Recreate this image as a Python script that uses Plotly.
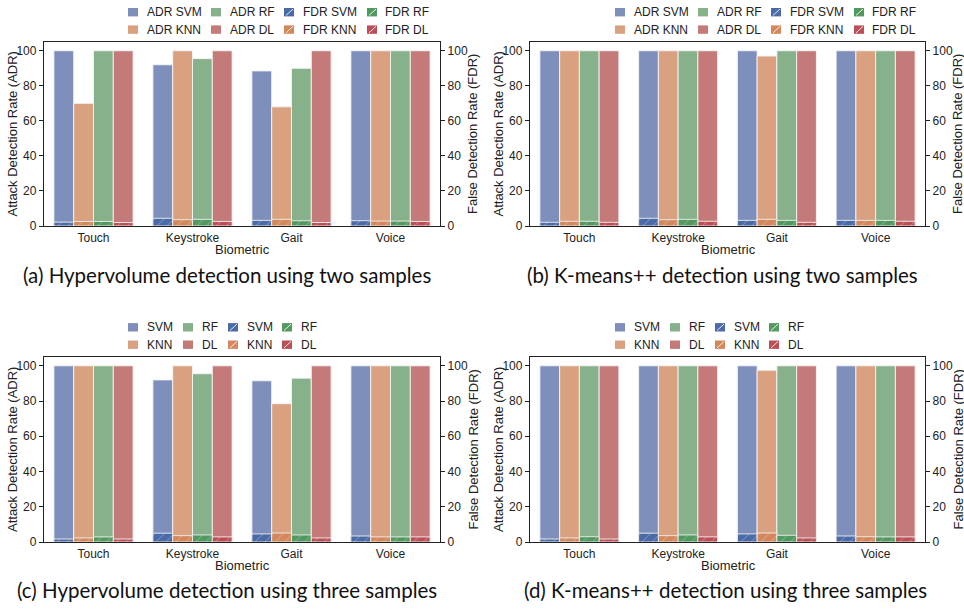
import plotly.graph_objects as go

W, H = 964, 610
categories = ["Touch", "Keystroke", "Gait", "Voice"]
models = ["SVM", "KNN", "RF", "DL"]

# ADR / FDR values per panel, per model (Touch, Keystroke, Gait, Voice)
adr_a = {"SVM": [100, 92, 88.5, 100], "KNN": [70, 100, 68, 100],
         "RF": [100, 95.5, 90, 100], "DL": [100, 100, 100, 100]}
fdr_a = {"SVM": [2.2, 4.4, 3.2, 3.0], "KNN": [2.6, 3.6, 3.8, 2.8],
         "RF": [2.6, 3.8, 3.0, 2.8], "DL": [2.0, 2.6, 2.0, 2.6]}

adr_b = {"SVM": [100, 100, 100, 100], "KNN": [100, 100, 97, 100],
         "RF": [100, 100, 100, 100], "DL": [100, 100, 100, 100]}
fdr_b = {"SVM": [2.1, 4.4, 3.2, 3.2], "KNN": [2.7, 3.6, 3.8, 3.2],
         "RF": [2.7, 3.8, 3.2, 3.2], "DL": [2.1, 2.7, 2.1, 2.7]}

adr_c = {"SVM": [100, 92, 91.5, 100], "KNN": [100, 100, 78.5, 100],
         "RF": [100, 95.5, 93, 100], "DL": [100, 100, 100, 100]}
fdr_c = {"SVM": [1.7, 5.0, 4.6, 3.4], "KNN": [2.3, 3.6, 5.1, 2.9],
         "RF": [2.9, 4.0, 4.0, 2.9], "DL": [1.7, 2.9, 2.3, 2.9]}

adr_d = {"SVM": [100, 100, 100, 100], "KNN": [100, 100, 97.5, 100],
         "RF": [100, 100, 100, 100], "DL": [100, 100, 100, 100]}
fdr_d = {"SVM": [1.7, 5.0, 4.6, 3.4], "KNN": [2.3, 3.6, 5.1, 3.0],
         "RF": [3.0, 4.0, 3.8, 2.9], "DL": [1.7, 2.9, 2.3, 2.9]}

captions = ["(a) Hypervolume detection using two samples",
            "(b) K-means++ detection using two samples",
            "(c) Hypervolume detection using three samples",
            "(d) K-means++ detection using three samples"]
x_title = "Biometric"
y_title_left = "Attack Detection Rate (ADR)"
y_title_right = "False Detection Rate (FDR)"
y_ticks = [0, 20, 40, 60, 80, 100]

adr_colors = {"SVM": "#7d8fba", "KNN": "#d9a17f", "RF": "#87b18b", "DL": "#c57a7a"}
fdr_colors = {"SVM": "#4a6ba8", "KNN": "#d3875a", "RF": "#52995f", "DL": "#be4e55"}

FONT = "Liberation Sans"
TXT = "#222222"

# panel geometry in pixels (left, right, top, bottom)
panels = [(44, 440, 42, 226), (530, 925, 42, 226),
          (44, 440, 357, 542), (530, 925, 357, 542)]
data = [(adr_a, fdr_a, True), (adr_b, fdr_b, True),
        (adr_c, fdr_c, False), (adr_d, fdr_d, False)]

fig = go.Figure()
layout = {}
annotations = []
shapes = []


def px(x):
    return x / W


def py(y):
    return 1 - y / H


# legend layout: (swatch left, text left) per column, rows centre y
leg_top = dict(cols=[(128, 145), (211, 228), (284, 301), (367, 383)], rows=[12.2, 29.6])
leg_bot = dict(cols=[(128, 145), (183, 200), (228, 245), (282, 299)], rows=[327.3, 344.7])
leg_entries = [[("ADR", "SVM"), ("ADR", "KNN")], [("ADR", "RF"), ("ADR", "DL")],
               [("FDR", "SVM"), ("FDR", "KNN")], [("FDR", "RF"), ("FDR", "DL")]]

for p, ((l, r, t, b), (adr, fdr, prefixed)) in enumerate(zip(panels, data)):
    k = p + 1
    xa = "x" if k == 1 else f"x{k}"
    ya = "y" if k == 1 else f"y{k}"
    y2n = k + 4
    ya2 = f"y{y2n}"
    dx = 0 if p % 2 == 0 else 487
    leg = leg_top if p < 2 else leg_bot

    for i, m in enumerate(models):
        fig.add_trace(go.Bar(
            x=categories, y=adr[m], xaxis=xa, yaxis=ya,
            name=(f"ADR {m}" if prefixed else m), showlegend=False,
            width=0.2, offset=-0.4 + 0.2 * i,
            marker=dict(color=adr_colors[m],
                        line=dict(color="rgba(245,245,245,0.9)", width=1)),
            hoverinfo="skip"))
    for i, m in enumerate(models):
        fig.add_trace(go.Bar(
            x=categories, y=fdr[m], xaxis=xa, yaxis=ya2,
            name=(f"FDR {m}" if prefixed else m), showlegend=False,
            width=0.2, offset=-0.4 + 0.2 * i,
            marker=dict(color=fdr_colors[m],
                        line=dict(color="rgba(240,240,240,0.9)", width=1),
                        pattern=dict(shape="/", fgcolor="rgba(255,255,255,0.75)",
                                     size=7, solidity=0.12)),
            hoverinfo="skip"))

    # manual legend
    for c, (sx, tx) in enumerate(leg["cols"]):
        for rr, (kind, m) in enumerate(leg_entries[c]):
            cy = leg["rows"][rr]
            x0, x1 = sx + dx, sx + dx + 10
            y0, y1 = cy - 4.2, cy + 4.2
            col = adr_colors[m] if kind == "ADR" else fdr_colors[m]
            shapes.append(dict(type="rect", xref="paper", yref="paper",
                               x0=px(x0), x1=px(x1), y0=py(y1), y1=py(y0),
                               fillcolor=col, line=dict(width=0)))
            if kind == "FDR":
                shapes.append(dict(type="line", xref="paper", yref="paper",
                                   x0=px(x0 + 2), x1=px(x1 - 1), y0=py(y1 - 1), y1=py(y0 + 1),
                                   line=dict(color="rgba(255,255,255,0.85)", width=1)))
            label = f"{kind} {m}" if prefixed else m
            annotations.append(dict(text=label, x=px(tx + dx), y=py(cy), xref="paper",
                                    yref="paper", xanchor="left", yanchor="middle",
                                    showarrow=False,
                                    font=dict(family=FONT, size=12, color=TXT)))

    # axis titles
    annotations.append(dict(text=x_title, x=px((l + r) / 2 + 0.5), y=py(249),
                            xref="paper", yref="paper", xanchor="center", yanchor="middle",
                            showarrow=False, font=dict(family=FONT, size=13, color=TXT))
                       if p < 2 else
                       dict(text=x_title, x=px((l + r) / 2 + 0.5), y=py(b + 23),
                            xref="paper", yref="paper", xanchor="center", yanchor="middle",
                            showarrow=False, font=dict(family=FONT, size=13, color=TXT)))
    annotations.append(dict(text=y_title_left, x=px(l - 31.5), y=py((t + b) / 2),
                            xref="paper", yref="paper", xanchor="center", yanchor="middle",
                            textangle=-90, showarrow=False,
                            font=dict(family=FONT, size=13, color=TXT)))
    annotations.append(dict(text=y_title_right, x=px(r + 33), y=py((t + b) / 2),
                            xref="paper", yref="paper", xanchor="center", yanchor="middle",
                            textangle=-90, showarrow=False,
                            font=dict(family=FONT, size=13, color=TXT)))

    xname = "xaxis" if k == 1 else f"xaxis{k}"
    yname = "yaxis" if k == 1 else f"yaxis{k}"
    layout[xname] = dict(
        domain=[px(l), px(r)], anchor=ya, type="category", range=[-0.5, 3.5],
        categoryorder="array", categoryarray=categories,
        showline=True, mirror=True, linecolor=TXT, linewidth=1.3,
        ticks="", showgrid=False, zeroline=False,
        tickfont=dict(family=FONT, size=12, color=TXT))
    layout[yname] = dict(
        domain=[py(b), py(t)], anchor=xa, range=[0, 105], tickvals=y_ticks,
        showline=True, linecolor=TXT, linewidth=1.3, ticks="outside",
        ticklen=4, tickcolor=TXT, showgrid=False, zeroline=False,
        tickfont=dict(family=FONT, size=12, color=TXT))
    layout[f"yaxis{y2n}"] = dict(
        overlaying=ya, anchor=xa, side="right", range=[0, 105], tickvals=y_ticks,
        showline=True, linecolor=TXT, linewidth=1.3, ticks="outside",
        ticklen=4, tickcolor=TXT, showgrid=False, zeroline=False,
        tickfont=dict(family=FONT, size=12, color=TXT))

cap_pos = [(226.5, 275), (722, 275), (227, 590), (725, 590)]
for (cx, cy), txt in zip(cap_pos, captions):
    annotations.append(dict(
        text=txt, x=px(cx), y=py(cy), xref="paper", yref="paper",
        xanchor="center", yanchor="middle", showarrow=False,
        font=dict(family="Lato", size=20.5, color="#111111")))

fig.update_layout(
    width=W, height=H, margin=dict(l=0, r=0, t=0, b=0, autoexpand=False),
    paper_bgcolor="white", plot_bgcolor="white", barmode="overlay",
    showlegend=False, annotations=annotations, shapes=shapes, **layout)

fig.write_html("out.html")
